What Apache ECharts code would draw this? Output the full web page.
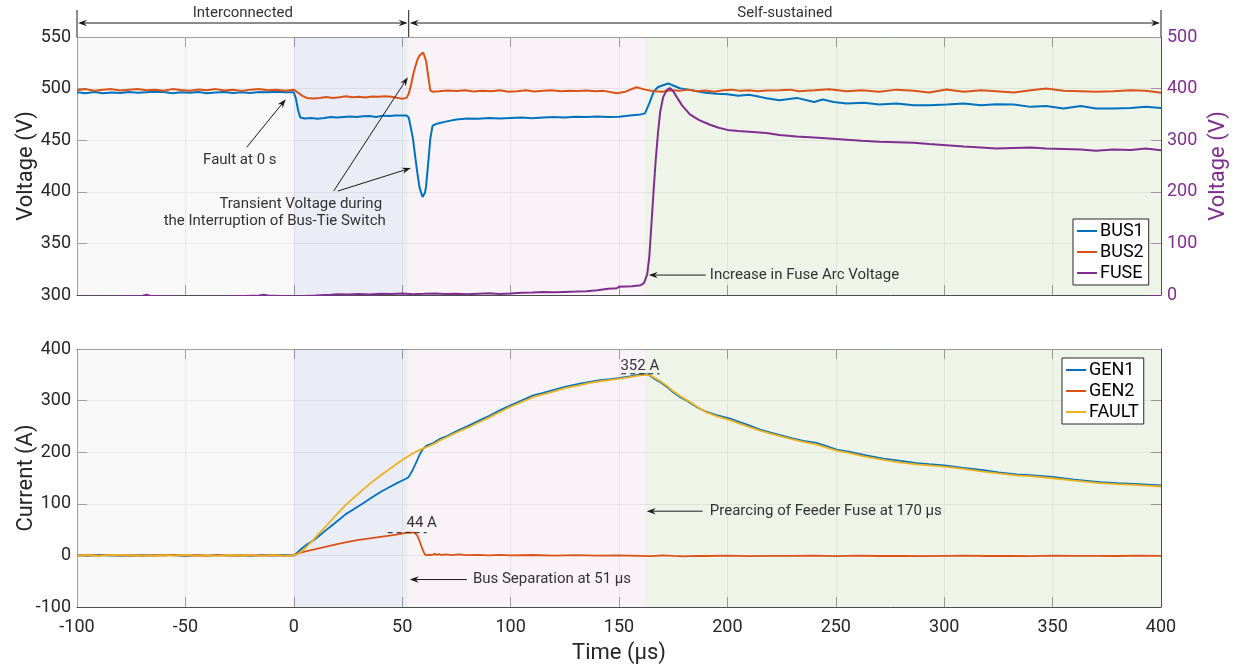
<!DOCTYPE html>
<html><head><meta charset="utf-8">
<script src="https://cdn.jsdelivr.net/npm/echarts@6/dist/echarts.min.js"></script>
<style>html,body{margin:0;padding:0;background:#fff}#c{width:1234px;height:670px}</style>
</head><body><div id="c"></div>
<script>
// ---------- data (time in µs) ----------
const phaseBounds = [-100, 0, 52.5, 162, 400];
const headerSplit = 53;

const bus1 = [[-100,496.5],[-96,495.5],[-92,496.8],[-88,495.5],[-84,496.2],[-80,495.8],[-76,496.8],[-72,496],[-68,496.5],[-64,497],[-60,496.8],[-56,495.5],[-52,496.5],[-48,496],[-44,496.8],[-40,495.5],[-36,496.2],[-32,496.8],[-28,495.8],[-24,496.5],[-20,495.8],[-16,496.8],[-12,496.5],[-8,497],[-4,496.5],[0,496.5],[1,490],[2,479],[3,472],[5,471],[8,471.5],[11,470.8],[14,471.5],[17,472.5],[20,472],[23,472.5],[26,473],[29,472.5],[32,473.2],[35,473.5],[38,472.5],[41,473.8],[44,473.5],[47,474],[50,474],[52,474],[53,472],[54,462],[55,451],[56,434],[57,418],[58,404],[59.4,395],[60.5,399],[61,405],[62,428],[63,452],[64,464],[66,466],[70,468],[75,470],[80,471],[85,470.8],[90,471.5],[95,471],[100,471.5],[105,472],[110,471.2],[115,472],[120,472.5],[125,472],[130,472.8],[135,472.5],[140,473],[145,472.5],[150,472.8],[155,474],[160,475],[162,476],[164,486],[166,497],[168,501.5],[170,503],[172.7,505],[175,503],[178,500.3],[182,499],[186,497.5],[190,496],[195,495],[200,494.5],[205,493],[210,494],[215,492],[218,490.6],[224,488.7],[232,491],[240,487.1],[244,489.4],[249,487.1],[255,485.5],[263,486.2],[270,484.6],[278,485.5],[286,483.9],[293,483.9],[301,484.6],[309,485.5],[317,483.9],[324,484.9],[332,484.6],[340,482.3],[347,483.2],[355,480.7],[363,483.2],[370,480.7],[378,480.7],[386,481.3],[393,482.3],[400,481.3]];

const bus2 = [[-100,498.5],[-96,499.5],[-92,498],[-88,498.8],[-84,499.5],[-80,498.2],[-76,499],[-72,499.5],[-68,498.4],[-64,499],[-60,498],[-56,499.5],[-52,498.6],[-48,498],[-44,499.2],[-40,498.4],[-36,499.5],[-32,498.2],[-28,498.8],[-24,497.8],[-20,499],[-16,499.6],[-12,498.4],[-8,498.8],[-4,498],[0,499],[2,496],[4,493],[6,491],[9,490.3],[12,491],[15,491.8],[18,491],[21,491.6],[24,492.5],[27,491.6],[30,492.2],[33,491.4],[36,492.3],[39,492],[42,492.6],[45,492],[48,491],[50,490.2],[52,491],[53,495],[54,503],[55,513],[56,521],[57,528],[58,532],[59.7,535],[61,527],[62,512],[63,498],[64,497],[67,497.5],[71,498.2],[75,497.6],[79,498.5],[83,497.2],[87,498],[91,497.5],[95,498.4],[99,497],[103,497.5],[107,498.3],[111,497.2],[115,497.8],[119,498.4],[123,497.4],[127,498],[131,497.6],[135,498.2],[139,497.4],[143,497.8],[149,495.4],[153,497],[158,501.3],[162,499],[166,497.5],[170,497],[174,498.5],[178,497.8],[182,499],[186,497.5],[190,498.2],[194,497],[198,498.4],[202,499],[206,497.8],[210,498.4],[214,497.5],[218,498.2],[224,498.4],[229,499],[233,497.5],[240,498.4],[247,499.4],[255,497.5],[262,498.4],[270,496.9],[278,499],[286,497.9],[293,496.2],[301,499.2],[309,496.9],[317,498.4],[324,497.5],[332,496.2],[340,498.4],[347,500],[355,497.9],[363,497.5],[370,496.9],[378,497.5],[386,498.4],[393,497.9],[400,496]];

const fuse = [[-100,-4],[-80,-3],[-70,-2],[-68,0.5],[-66,-2],[-50,-4],[-30,-3],[-16,-1],[-14,0.5],[-12,-1],[0,-3],[10,-1],[17,0.5],[20,1.5],[25,0.8],[30,2],[35,1.2],[40,2.5],[45,1.8],[50,2.8],[55,1.6],[60,2.2],[65,3],[70,1.8],[75,2.6],[80,1.5],[85,2.4],[90,3.2],[95,2],[100,3],[105,4.5],[110,4.8],[115,5.6],[120,5.2],[125,6],[130,6.6],[135,7.4],[140,9],[145,12],[149,13],[150,16],[156,17],[160,19],[161.5,23],[163,40],[164,75],[165,140],[166,205],[167,265],[168,315],[169,355],[170.4,384],[172,397],[173.5,401],[175,395],[176.6,384],[179,368],[182.7,350],[187,339],[192,330],[196,324],[200,320],[205,318],[210,316.5],[218,314],[224,310],[232,307],[240,305],[247,303.3],[255,301],[262,299],[270,297],[286,295],[293,292.5],[301,290.4],[309,288],[317,286],[324,284],[332,285],[340,286],[347,284],[355,283],[363,282],[370,279.5],[378,282],[386,281],[393,284],[400,280.7]];

const gen1 = [[-100,0.5],[-95,-0.8],[-90,1.2],[-85,-0.5],[-80,0.3],[-75,-1],[-70,0.8],[-65,-0.4],[-60,1],[-55,0.2],[-50,-0.8],[-45,0.6],[-40,-0.3],[-35,1],[-30,-0.6],[-25,0.4],[-20,-1],[-15,0.7],[-10,-0.2],[-5,0.8],[0,0],[1,3],[3,11],[6,21],[9,29],[12,39],[15,49.5],[18,59.5],[21,69.5],[24,80],[28,90.5],[32,101],[36,112],[40,123],[44,132],[48,141],[51,147],[52.8,151],[54.4,162],[56,176],[58,195],[59.7,207],[61.3,213],[64,217],[67.4,226],[70,230],[72,234],[76.6,244],[80,250],[87.4,265],[90,270],[95,281],[100,291],[105,300],[110.5,310],[115,315],[120,321],[125,326.6],[132,333],[136,336],[141.2,339.5],[146,341.5],[150.4,344],[155,347],[159.7,350.6],[162.8,351.5],[164.5,348],[166,343],[168.9,336],[172,327],[175,316],[178.1,307],[182,298],[186,287],[190.4,278],[195,272],[201.2,265],[206,258],[210,252],[215,244],[220,238],[224.3,233],[230,227],[235,222],[241,218],[245,213],[250.4,205],[256.5,200.5],[264,194],[271.9,187.6],[280,183],[287.3,179],[293,177],[300,174.6],[308,170],[318,165],[325,161],[333.4,157],[341,155],[350,152],[360,147],[371.8,142],[380,140],[390,138],[400,135.5]];

const gen2 = [[-100,-0.5],[-95,0.8],[-90,-0.3],[-85,1],[-80,-0.6],[-75,0.4],[-70,-1],[-65,0.6],[-60,-0.2],[-55,0.9],[-50,-0.5],[-45,0.3],[-40,-0.9],[-35,0.5],[-30,0.2],[-25,-0.7],[-20,0.6],[-15,-0.4],[-10,0.8],[-5,-0.3],[0,0],[2,4],[5,7.5],[10,12],[15,17],[20,22],[25,26],[30,30],[35,33],[40,36],[45,39],[50,42],[52,44],[55,44],[56,43],[57,38],[58,28],[59,16],[60,6],[60.7,0.5],[61.5,4],[62.3,0.8],[63.2,3.5],[64,1],[65,3],[66,1],[67,2.5],[68,0.8],[70,2],[73,0.5],[76,1.8],[80,0.5],[85,1.2],[90,0],[95,1],[100,0.2],[110,0.8],[120,-0.5],[130,0.6],[140,-0.3],[150,0.2],[160,-0.8],[165,-1.5],[170,0],[175,-1],[180,-1.8],[185,-0.8],[190,-1.2],[200,-0.5],[210,-1.5],[220,-0.8],[230,-1],[240,-0.5],[250,-1.5],[260,-0.6],[270,-1.2],[280,-0.8],[290,-1.5],[300,-1],[310,-0.5],[320,-1.2],[330,-0.8],[340,-1.4],[350,-0.6],[360,-1],[370,-0.8],[380,-1.2],[390,-0.6],[400,-0.8]];

const fault = [[-100,-0.3],[-95,0.6],[-90,-0.9],[-85,0.4],[-80,1],[-75,-0.5],[-70,0.2],[-65,-0.8],[-60,0.7],[-55,-0.4],[-50,0.9],[-45,-0.6],[-40,0.3],[-35,-1],[-30,0.8],[-25,-0.2],[-20,0.5],[-15,-0.9],[-10,0.4],[-5,-0.5],[0,0],[2,3],[4,9],[6,17],[9,30],[12,44],[15,57],[18,71],[21,85],[24,98],[28,113],[32,128],[36,142],[40,155],[44,167],[48,179],[52,190],[55,198],[58,204],[60,208],[62,211],[65,217],[67.4,223],[70,228],[72,232],[76.6,241],[80,247],[87.4,262],[90,267],[95,278],[100,288],[105,297],[110.5,307],[115,312],[120,318],[125,324],[132,330],[136,334],[141.2,337.5],[146,340],[150.4,342.5],[155,345.5],[159.7,349],[162.8,350],[164.5,349],[166,345],[168.9,338],[172,329],[175,318],[178.1,309],[182,299],[186,288],[190.4,277],[195,270],[201.2,262],[206,255],[210,249],[215,242],[220,236],[224.3,231],[230,225],[235,220],[241,215],[245,210],[250.4,203],[256.5,198],[264,191],[271.9,185],[280,180],[287.3,176.5],[293,174.5],[300,172],[308,168],[318,162.5],[325,159],[333.4,155],[341,153],[350,149.5],[360,145],[371.8,140],[380,138],[390,136],[400,133.5]];

const peakGen1 = 352, peakGen2 = 44;

// ---------- styling ----------
const FONT = 'Roboto';
const C = {blue:'#0072BD', orange:'#D95319', yellow:'#EDB120', purple:'#7E2F8E', axis:'#4d4d4d', text:'#262626', grid:'#dedede'};
const phaseFill = ['rgba(241,241,241,0.5)','rgba(213,219,237,0.5)','rgba(243,231,241,0.5)','rgba(223,233,211,0.5)'];

const chart = echarts.init(document.getElementById('c'), null, {renderer:'canvas'});

function xAx(grid, pos, labels, split) {
  return {type:'value', gridIndex:grid, position:pos, min:-100, max:400, interval:50,
    axisLine:{show:true, onZero:false, lineStyle:{color:C.axis, width:1}},
    axisTick:{show:true, inside:true, length:10, lineStyle:{color:C.axis}},
    axisLabel:{show:labels, fontSize:18, fontFamily:FONT, color:C.text, margin:11},
    splitLine:{show:split, lineStyle:{color:C.grid, width:1}},
    name: labels ? 'Time (µs)' : '', nameLocation:'middle', nameGap:35, nameMoveOverlap:false,
    nameTextStyle:{fontSize:22, fontFamily:FONT, color:C.text}};
}
function yAx(grid, pos, min, max, interval, opts) {
  return Object.assign({type:'value', gridIndex:grid, position:pos, min, max, interval,
    axisLine:{show:true, onZero:false, lineStyle:{color:C.axis, width:1}},
    axisTick:{show:true, inside:true, length:10, lineStyle:{color:C.axis}},
    axisLabel:{show:true, fontSize:18, fontFamily:FONT, color:C.text, margin:6},
    splitLine:{show:true, lineStyle:{color:C.grid, width:1}},
    nameLocation:'middle', nameRotate:90, nameGap:40, nameMoveOverlap:false,
    nameTextStyle:{fontSize:22, fontFamily:FONT, color:C.text}}, opts||{});
}

function shading() {
  const d = [];
  for (let i = 0; i < phaseBounds.length - 1; i++) {
    d.push([{xAxis:phaseBounds[i], itemStyle:{color:phaseFill[i]}}, {xAxis:phaseBounds[i+1]}]);
  }
  return {silent:true, data:d, label:{show:false}};
}

function lineS(name, data, color, xi, yi, w, extra) {
  return Object.assign({name, type:'line', data, xAxisIndex:xi, yAxisIndex:yi, showSymbol:false, symbol:'none',
    lineStyle:{color, width:w}, itemStyle:{color}, animation:false, clip:true, z:3}, extra||{});
}

const option = {
  backgroundColor:'#fff',
  animation:false,
  grid:[{left:77, top:37, width:1084, height:258, containLabel:false, outerBoundsMode:'none'},
        {left:77, top:349, width:1084, height:258, containLabel:false, outerBoundsMode:'none'}],
  xAxis:[xAx(0,'bottom',false,true), xAx(0,'top',false,false), xAx(1,'bottom',true,true), xAx(1,'top',false,false)],
  yAxis:[
    yAx(0,'left',300,550,50,{name:'Voltage (V)'}),
    yAx(0,'right',0,500,100,{name:'Voltage (V)', nameGap:46, splitLine:{show:false},
      axisLine:{show:true, onZero:false, lineStyle:{color:C.purple, width:1}},
      axisTick:{show:true, inside:true, length:10, lineStyle:{color:C.purple}},
      axisLabel:{show:true, fontSize:18, fontFamily:FONT, color:C.purple, margin:6},
      nameTextStyle:{fontSize:22, fontFamily:FONT, color:C.purple}}),
    yAx(1,'left',-100,400,100,{name:'Current (A)'}),
    yAx(1,'right',-100,400,100,{axisLabel:{show:false}, splitLine:{show:false}})
  ],
  legend:[
    {data:['BUS1','BUS2','FUSE'], orient:'vertical', left:1073, top:219, icon:'rect', itemWidth:20, itemHeight:2,
     itemGap:1, padding:[2,5,2,4], backgroundColor:'#fff', borderColor:'#262626', borderWidth:1, borderRadius:0,
     textStyle:{fontSize:18, fontFamily:FONT, color:'#000', lineHeight:20, padding:[0,0,0,-2]}},
    {data:['GEN1','GEN2','FAULT'], orient:'vertical', left:1062, top:358, icon:'rect', itemWidth:20, itemHeight:2,
     itemGap:1, padding:[2,5,2,4], backgroundColor:'#fff', borderColor:'#262626', borderWidth:1, borderRadius:0,
     textStyle:{fontSize:18, fontFamily:FONT, color:'#000', lineHeight:20, padding:[0,0,0,-2]}}
  ],
  series:[
    lineS('BUS1', bus1, C.blue, 0, 0, 2, {markArea:shading()}),
    lineS('BUS2', bus2, C.orange, 0, 0, 2),
    lineS('FUSE', fuse, C.purple, 0, 1, 2),
    lineS('GEN1', gen1, C.blue, 2, 2, 1.8, {markArea:shading()}),
    lineS('GEN2', gen2, C.orange, 2, 2, 1.8),
    lineS('FAULT', fault, C.yellow, 2, 2, 1.8)
  ]
};
chart.setOption(option);

// ---------- annotations (data coordinates -> pixels) ----------
const P = (si, t, v) => chart.convertToPixel({seriesIndex:si}, [t, v]);
const ink = '#1a1a1a', noteCol = '#333333';
const g = [];
function arrow(p0, p1) {
  const dx = p1[0]-p0[0], dy = p1[1]-p0[1], L = Math.hypot(dx, dy), ux = dx/L, uy = dy/L;
  const hl = 9, hw = 3.2, nx = -uy, ny = ux;
  const bx = p1[0]-ux*hl, by = p1[1]-uy*hl;
  g.push({type:'line', silent:true, z:100, shape:{x1:p0[0], y1:p0[1], x2:bx+ux*3, y2:by+uy*3}, style:{stroke:ink, lineWidth:1}});
  g.push({type:'polygon', silent:true, z:100, shape:{points:[[p1[0],p1[1]],[bx+nx*hw,by+ny*hw],[bx+ux*3,by+uy*3],[bx-nx*hw,by-ny*hw]]}, style:{fill:ink}});
}
function text(p, s, align, size) {
  g.push({type:'text', silent:true, z:100, style:{text:s, x:p[0], y:p[1], align:align||'center', verticalAlign:'middle',
    fontSize:size||15, fontFamily:FONT, fill:noteCol}});
}
function dashed(p0, p1) {
  g.push({type:'line', silent:true, z:100, shape:{x1:p0[0], y1:p0[1], x2:p1[0], y2:p1[1]}, style:{stroke:ink, lineWidth:1, lineDash:[5,4]}});
}

// top panel notes (series 0: BUS1 scale)
arrow(P(0,-21.7,443.2), P(0,-3.7,489.7));
text(P(0,-24.9,430.7), 'Fault at 0 s');
arrow(P(0,18.4,400.7), P(0,52.6,511));
arrow(P(0,20.3,400.7), P(0,54,423));
text(P(0,3.2,388), 'Transient Voltage during');
text(P(0,-8.8,371.6), 'the Interruption of Bus-Tie Switch');
arrow(P(0,190,319.3), P(0,163.7,319.3));
text(P(0,191.9,319.3), 'Increase in Fuse Arc Voltage', 'left');

// bottom panel notes (series 3: GEN1 scale)
dashed(P(3,151,peakGen1), P(3,168.7,peakGen1));
text(P(3,159.6,367), peakGen1 + ' A');
dashed(P(3,43.3,peakGen2), P(3,61.3,peakGen2));
text(P(3,59,62.4), peakGen2 + ' A');
arrow(P(3,188.6,85.7), P(3,162.8,85.7));
text(P(3,191.9,85.7), 'Prearcing of Feeder Fuse at 170 µs', 'left');
arrow(P(3,79.8,-46.8), P(3,53.5,-46.8));
text(P(3,82.6,-46.8), 'Bus Separation at 51 µs', 'left');

// header: operating modes
const xl = P(0,-100,550)[0], xm = P(0,headerSplit,550)[0], xr = P(0,400,550)[0], yt = P(0,-100,550)[1];
const yh = yt - 14;
[xl, xm, xr].forEach(x => g.push({type:'line', silent:true, z:100, shape:{x1:x, y1:yt-27, x2:x, y2:yt}, style:{stroke:ink, lineWidth:1}}));
arrow([(xl+xm)/2, yh], [xl+1, yh]); arrow([(xl+xm)/2, yh], [xm-1, yh]);
arrow([(xm+xr)/2, yh], [xm+1, yh]); arrow([(xm+xr)/2, yh], [xr-1, yh]);
text([(xl+xm)/2, yt-24], 'Interconnected');
text([(xm+xr)/2, yt-24], 'Self-sustained');

chart.setOption({graphic:{elements:g}});
</script>
</body></html>
